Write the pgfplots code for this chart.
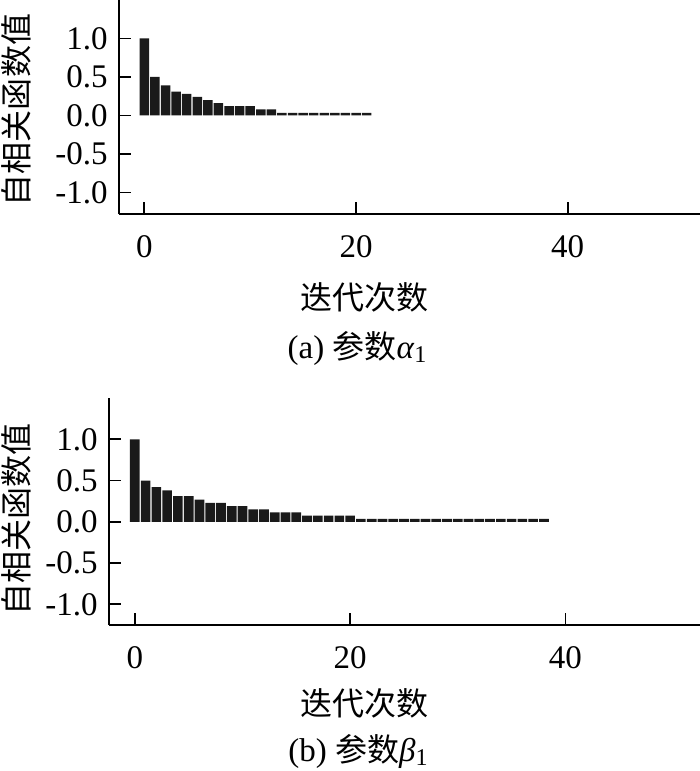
\documentclass[border=0pt]{standalone}
\usepackage{fontspec}
\setmainfont{Liberation Serif}
\newfontfamily\cjk[Scale=0.97]{Noto Sans CJK SC}
\usepackage{pgfplots}
\pgfplotsset{compat=1.18}

\definecolor{barblk}{HTML}{1A1A1A}
\newcommand{\subone}{\raisebox{-0.3ex}{\fontsize{12}{14}\selectfont 1}}

\pgfplotsset{
  acfstyle/.style={
    scale only axis,
    axis lines=left,
    axis line style={-, line width=0.9pt, black},
    tick align=inside,
    major tick length=6pt,
    tick style={line width=0.9pt, black},
    xmin=-2.4, xmax=52.5,
    xtick={0,20,40}, xticklabels={0,20,40},
    ytick={-1,-0.5,0,0.5,1},
    yticklabels={-1.0,-0.5,0.0,0.5,1.0},
    x tick label style={yshift=-5pt},
    clip=false,
  },
}

\begin{document}
\fontsize{16.5}{19}\selectfont
\begin{tikzpicture}
\path[use as bounding box] (0,0) rectangle (350pt,-385.5pt);

% (a) alpha_1
\begin{axis}[acfstyle,
  at={(59.5pt,-107pt)}, anchor=south west,
  width=290.5pt, height=107pt,
  ymin=-1.28, ymax=1.5,
  xlabel={\cjk 迭代次数},
  xlabel style={at={(axis description cs:0.423,-0.388)}, anchor=center},
  ylabel={\cjk 自相关函数值},
  ylabel style={at={(axis description cs:-0.177,0.486)}, anchor=center},
]
\addplot[ybar, bar width=0.9, fill=barblk, draw=none] coordinates {
  (0,1.00) (1,0.50) (2,0.39) (3,0.31) (4,0.28) (5,0.24) (6,0.20)
  (7,0.16) (8,0.12) (9,0.12) (10,0.12) (11,0.08) (12,0.08)
  (13,0.035) (14,0.035) (15,0.035) (16,0.035) (17,0.035) (18,0.035)
  (19,0.035) (20,0.035) (21,0.035)
};
\end{axis}

% (b) beta_1
\begin{axis}[acfstyle,
  at={(54.5pt,-312.5pt)}, anchor=south west,
  width=295.5pt, height=113.5pt,
  ymin=-1.25, ymax=1.5,
  xlabel={\cjk 迭代次数},
  xlabel style={at={(axis description cs:0.433,-0.344)}, anchor=center},
  ylabel={\cjk 自相关函数值},
  ylabel style={at={(axis description cs:-0.156,0.463)}, anchor=center},
]
\addplot[ybar, bar width=0.9, fill=barblk, draw=none] coordinates {
  (0,1.00) (1,0.50) (2,0.42) (3,0.38) (4,0.31) (5,0.31) (6,0.27)
  (7,0.23) (8,0.23) (9,0.19) (10,0.19) (11,0.15) (12,0.15)
  (13,0.115) (14,0.115) (15,0.115) (16,0.075) (17,0.075) (18,0.075)
  (19,0.075) (20,0.075)
  (21,0.035) (22,0.035) (23,0.035) (24,0.035) (25,0.035) (26,0.035)
  (27,0.035) (28,0.035) (29,0.035) (30,0.035) (31,0.035) (32,0.035)
  (33,0.035) (34,0.035) (35,0.035) (36,0.035) (37,0.035) (38,0.035)
};
\end{axis}

\node at (178.5pt,-174pt) {(a) {\cjk 参数}\textit{α}\subone};
\node at (179pt,-375.5pt) {(b) {\cjk 参数}\textit{β}\subone};
\end{tikzpicture}
\end{document}
